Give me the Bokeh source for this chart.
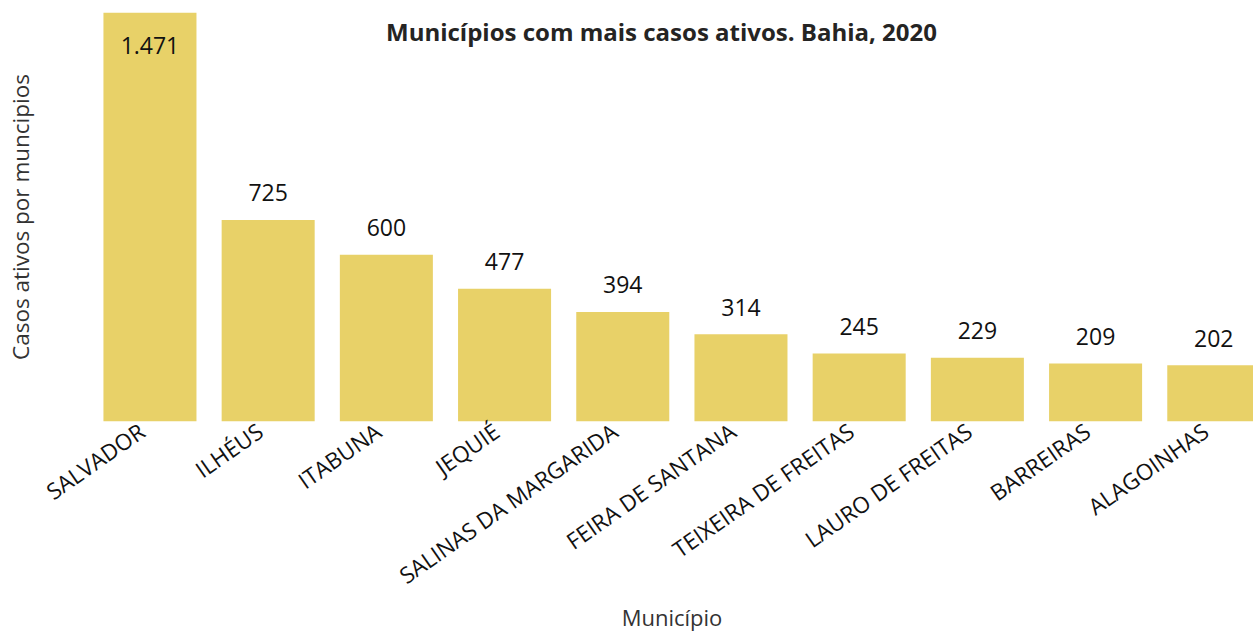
from bokeh.plotting import figure
from bokeh.models import ColumnDataSource, Range1d, FixedTicker, LabelSet, Label, LinearAxis
from bokeh.core.properties import value
from bokeh.embed import file_html
from bokeh.resources import INLINE

municipios = ["SALVADOR", "ILHÉUS", "ITABUNA", "JEQUIÉ", "SALINAS DA MARGARIDA",
              "FEIRA DE SANTANA", "TEIXEIRA DE FREITAS", "LAURO DE FREITAS",
              "BARREIRAS", "ALAGOINHAS"]
casos = [1471, 725, 600, 477, 394, 314, 245, 229, 209, 202]
titulo = "Municípios com mais casos ativos. Bahia, 2020"

FONT = "Open Sans"
BAR = "#E8D168"

xs = list(range(len(casos)))
labels = [f"{v:,}".replace(",", ".") for v in casos]
vmax = max(casos)
offs = [-33 if v == vmax else 27 for v in casos]

src = ColumnDataSource(dict(x=xs, y=casos, lab=labels, off=offs))

X0, X1 = -0.503, 9.336
SHIFT = 0.068

p = figure(width=1253, height=635, output_backend="svg", toolbar_location=None,
           x_range=Range1d(X0, X1), y_range=Range1d(0, vmax),
           min_border_left=90, min_border_right=0, min_border_top=12,
           min_border_bottom=10, x_axis_location=None)
p.extra_x_ranges = {"lab": Range1d(X0 + SHIFT, X1 + SHIFT)}
p.title = None
p.outline_line_color = None
p.grid.grid_line_color = None
p.background_fill_color = "white"
p.border_fill_color = "white"

p.vbar(x="x", top="y", width=0.787, bottom=0, source=src, color=BAR, line_color=None)

ls = LabelSet(x="x", y="y", text="lab", y_offset="off", source=src,
              text_align="center", text_baseline="middle",
              text_font=value(FONT), text_font_size="23px", text_color="#111111")
p.add_layout(ls)

p.add_layout(Label(x=571, y=vmax, x_units="screen", y_units="data", y_offset=-2,
                   text=titulo, text_align="center", text_baseline="top",
                   text_font=FONT, text_font_size="24px", text_font_style="bold",
                   text_color="#252423"))

xa = LinearAxis(x_range_name="lab")
xa.ticker = FixedTicker(ticks=xs)
xa.major_label_overrides = {i: m for i, m in zip(xs, municipios)}
xa.major_label_orientation = 0.611
xa.axis_line_color = None
xa.major_tick_line_color = None
xa.minor_tick_line_color = None
xa.major_tick_out = 0
xa.major_label_standoff = 7
xa.major_label_text_font = FONT
xa.major_label_text_font_size = "22.5px"
xa.major_label_text_color = "#111111"
xa.axis_label = "Município"
xa.axis_label_text_font = FONT
xa.axis_label_text_font_size = "22px"
xa.axis_label_text_font_style = "normal"
xa.axis_label_text_color = "#333333"
xa.axis_label_standoff = -4
p.add_layout(xa, "below")

ya = p.yaxis[0]
ya.ticker = FixedTicker(ticks=[])
ya.axis_line_color = None
ya.major_tick_line_color = None
ya.minor_tick_line_color = None
ya.major_label_text_font_size = "0px"
ya.axis_label = "Casos ativos por muncipios"
ya.axis_label_text_font = FONT
ya.axis_label_text_font_size = "22.5px"
ya.axis_label_text_font_style = "normal"
ya.axis_label_text_color = "#333333"
ya.axis_label_standoff = 55

open("out.html", "w").write(file_html(p, INLINE))
